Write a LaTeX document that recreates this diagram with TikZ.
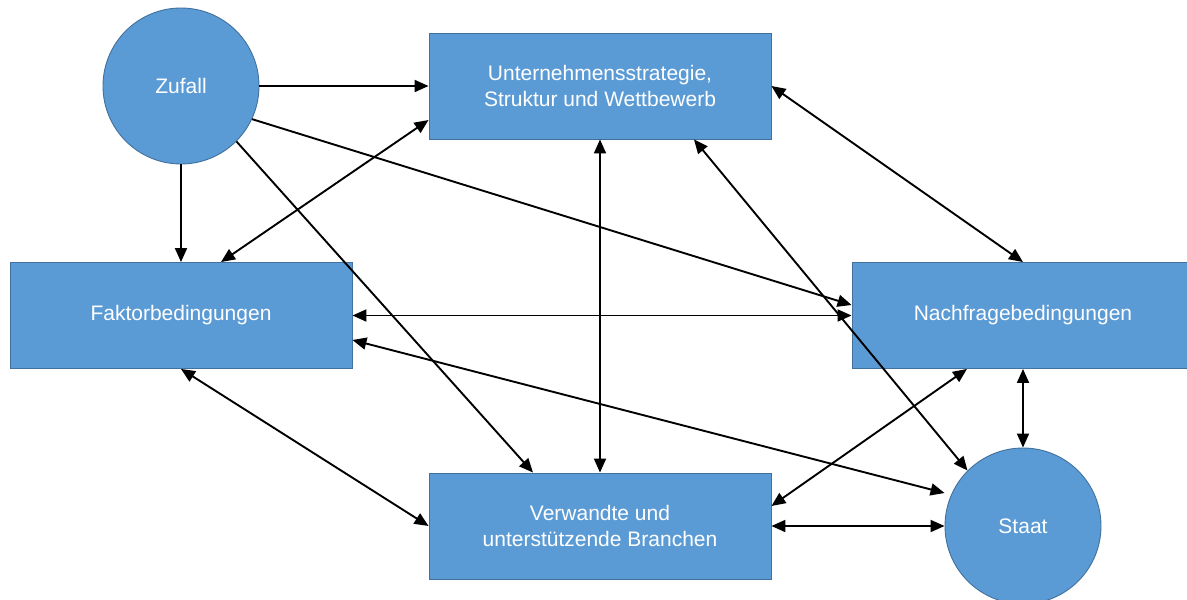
\documentclass[tikz,border=0pt]{standalone}
\usepackage{fontspec}
\setmainfont{Liberation Sans}
\usetikzlibrary{arrows.meta}
\definecolor{boxfill}{HTML}{5B9BD5}
\definecolor{boxline}{HTML}{41719C}
\begin{document}
\begin{tikzpicture}[x=1pt,y=-1pt,
  base/.style={fill=boxfill,draw=boxline,line width=0.9pt,text=white,
    font=\fontsize{21}{26}\selectfont,align=center,inner sep=0pt},
  factor/.style={base,rectangle,minimum width=342pt,minimum height=106pt},
  outer/.style={base,circle,minimum size=156pt},
  tip/.style={Triangle[length=14pt,width=12pt]},
  link/.style={line width=1.9pt,-{Triangle[length=14pt,width=12pt]}},
  both/.style={line width=1.9pt,{Triangle[length=14pt,width=12pt]}-{Triangle[length=14pt,width=12pt]}}]
\clip (0,0) rectangle (1187,600);
\fill[white] (0,0) rectangle (1187,600);

% the four determinants and the two outer influences
\node[factor] (unt)   at (600,86)    {Unternehmensstrategie,\\Struktur und Wettbewerb};
\node[factor] (fak)   at (181,315.5) {Faktorbedingungen};
\node[factor] (nach)  at (1023,315.5){Nachfragebedingungen};
\node[factor] (ver)   at (600,526)   {Verwandte und\\unterstützende Branchen};
\node[outer]  (zufall) at (181,86)   {Zufall};
\node[outer]  (staat)  at (1023,526) {Staat};

% influences of chance
\draw[link] (zufall.east) -- (unt.west);
\draw[link] (zufall.south) -- (fak.north);
\draw[link] (zufall.-45) -- ([xshift=-67pt]ver.north);
\draw[link] (zufall.-25.6) -- ([yshift=10.5pt]nach.west);

% mutual relations
\draw[both] ([xshift=40pt]fak.north) -- ([yshift=-34pt]unt.west);
\draw[both] (unt.south) -- (ver.north);
\draw[both] (unt.east) -- (nach.north);
\draw[both] (fak.east) -- (nach.west);
\draw[both] ([yshift=-24.5pt]fak.east) -- ([yshift=33pt]staat.west);
\draw[both] (fak.south) -- (ver.west);
\draw[both] ([xshift=-56pt]nach.south) -- ([yshift=20pt]ver.east);
\draw[both] (nach.south) -- (staat.north);
\draw[both] (ver.east) -- (staat.west);
\draw[both] ([xshift=94pt]unt.south) -- (staat.135);
\end{tikzpicture}
\end{document}
